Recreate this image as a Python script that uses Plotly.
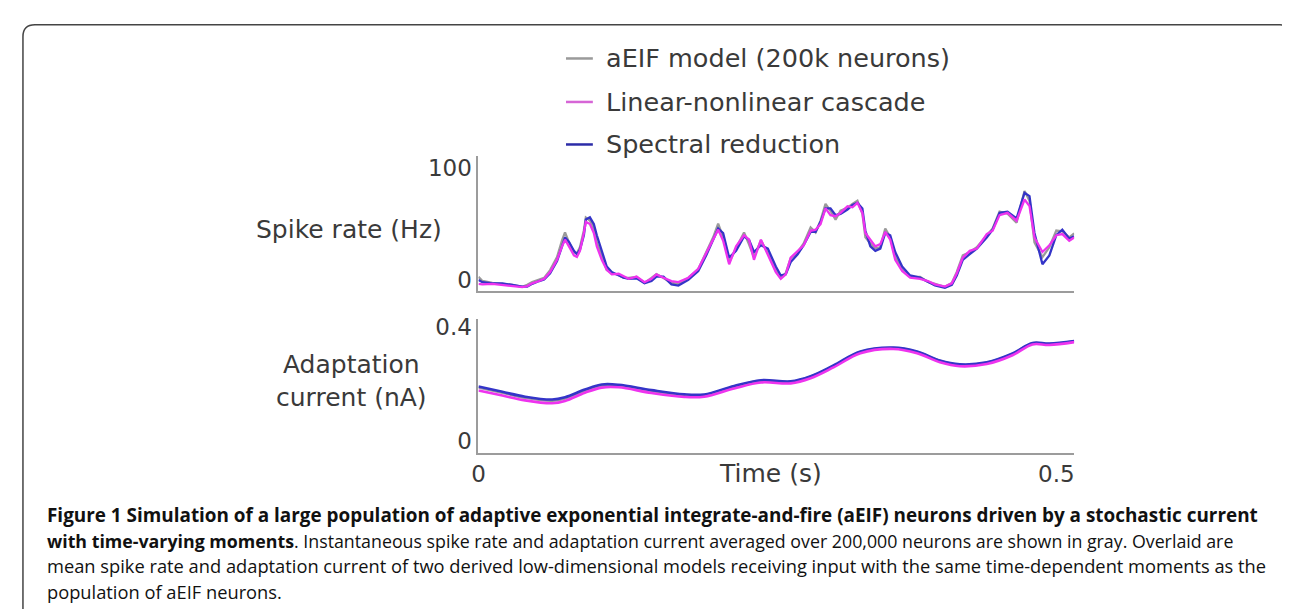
import plotly.graph_objects as go

W, H = 1290, 609

# ---------------- data ----------------
t_rate = [0.0, 0.0034, 0.0120, 0.0207, 0.0293, 0.0379, 0.0422, 0.0465, 0.0525, 0.0568,
          0.0620, 0.0680, 0.0723, 0.0749, 0.0783, 0.0826, 0.0852, 0.0878, 0.0912, 0.0929,
          0.0964, 0.0998, 0.1024, 0.1067, 0.1110, 0.1153, 0.1213, 0.1256, 0.1300, 0.1368,
          0.1437, 0.1497, 0.1540, 0.1601, 0.1670, 0.1730, 0.1816, 0.1902, 0.1971, 0.2031,
          0.2074, 0.2117, 0.2169, 0.2229, 0.2298, 0.2341, 0.2384, 0.2444, 0.2504, 0.2573,
          0.2616, 0.2659, 0.2702, 0.2762, 0.2814, 0.2874, 0.2917, 0.2960, 0.3003, 0.3046,
          0.3090, 0.3133, 0.3193, 0.3236, 0.3279, 0.3322, 0.3348, 0.3391, 0.3434, 0.3477,
          0.3520, 0.3563, 0.3606, 0.3666, 0.3735, 0.3821, 0.3890, 0.3950, 0.4036, 0.4096,
          0.4139, 0.4191, 0.4251, 0.4312, 0.4398, 0.4449, 0.4509, 0.4578, 0.4656, 0.4725,
          0.4768, 0.4811, 0.4880, 0.4940, 0.5000, 0.5052, 0.5112, 0.5155]

rate_aeif = [2.7, -0.9, -2.7, -3.5, -4.4, -6.2, -4.4, -1.8, 0.0, 1.8,
             8.8, 20.4, 35.4, 42.5, 33.6, 24.8, 23.9, 29.2, 44.2, 55.8,
             53.1, 46.0, 33.6, 20.4, 8.8, 6.2, 4.4, 1.8, 1.8, 2.7,
             -2.7, 1.8, 5.3, 1.8, -2.7, -3.5, 1.8, 9.7, 25.7, 38.1,
             50.4, 38.1, 15.9, 28.3, 42.5, 31.9, 20.4, 35.4, 23.9, 8.0,
             1.8, 6.2, 19.5, 24.8, 32.7, 46.9, 42.5, 53.1, 68.1, 61.9,
             54.0, 61.9, 64.6, 68.1, 70.8, 59.3, 38.1, 32.7, 28.3, 29.2,
             46.0, 38.1, 20.4, 8.8, 2.7, 2.7, -1.8, -3.5, -6.2, -2.7,
             7.1, 22.1, 24.8, 29.2, 39.8, 46.0, 61.1, 59.3, 51.3, 79.6,
             70.8, 33.6, 20.4, 29.2, 44.2, 43.4, 38.1, 41.6]

rate_ln = [-3.5, -4.0, -3.5, -4.5, -5.0, -6.5, -5.5, -3.0, -1.0, 1.0,
           7.0, 18.0, 30.0, 36.0, 30.0, 22.0, 20.5, 26.0, 42.0, 52.0,
           50.0, 42.0, 30.0, 18.0, 9.0, 5.0, 5.5, 3.0, 1.0, 3.0,
           -2.0, 1.0, 5.0, 2.0, -1.0, -2.0, 2.0, 10.0, 24.0, 36.0,
           45.0, 35.0, 14.0, 30.0, 40.0, 36.0, 18.0, 36.0, 22.0, 7.0,
           1.0, 5.0, 20.0, 26.0, 31.0, 44.0, 45.0, 50.0, 64.0, 58.0,
           57.0, 60.0, 66.0, 65.0, 69.0, 60.0, 42.0, 36.0, 30.0, 32.0,
           43.0, 36.0, 18.0, 8.0, 2.0, 1.0, -1.0, -4.0, -6.0, -3.0,
           6.0, 20.0, 26.0, 28.0, 41.0, 44.0, 58.0, 60.0, 53.0, 72.0,
           66.0, 38.0, 25.0, 31.0, 40.0, 41.0, 35.0, 38.0]

rate_spec = [0.0, -2.0, -3.0, -3.0, -4.5, -6.0, -6.0, -3.5, -1.0, 0.5,
             6.0, 17.0, 30.0, 38.0, 34.0, 26.0, 23.0, 27.0, 40.0, 54.0,
             56.0, 50.0, 40.0, 25.0, 12.0, 7.0, 4.0, 2.0, 1.0, 1.5,
             -3.0, -1.0, 3.0, 3.0, -4.0, -5.0, 0.0, 8.0, 22.0, 36.0,
             46.0, 42.0, 20.0, 26.0, 39.0, 36.0, 25.0, 31.0, 28.0, 12.0,
             4.0, 5.0, 16.0, 23.0, 31.0, 43.0, 43.0, 52.0, 64.0, 64.0,
             58.0, 59.0, 63.0, 67.0, 69.0, 64.0, 44.0, 30.0, 26.0, 28.0,
             42.0, 40.0, 25.0, 12.0, 4.0, 2.0, -2.0, -5.0, -7.0, -4.5,
             4.0, 18.0, 23.0, 28.0, 38.0, 45.0, 60.0, 61.0, 55.0, 78.0,
             75.0, 42.0, 14.0, 22.0, 40.0, 45.0, 37.0, 39.0]

t_adapt = [0.0, 0.0207, 0.0404, 0.0637, 0.0749, 0.0921, 0.1067, 0.1213, 0.1497, 0.1781,
           0.1954, 0.2212, 0.2444, 0.2702, 0.2874, 0.3072, 0.3305, 0.3589, 0.3795, 0.3993,
           0.4165, 0.4398, 0.4621, 0.4793, 0.4940, 0.5155]

adapt_aeif = [0.188, 0.170, 0.152, 0.142, 0.150, 0.177, 0.195, 0.195, 0.176, 0.162,
              0.162, 0.191, 0.212, 0.208, 0.226, 0.264, 0.313, 0.327, 0.313, 0.282,
              0.268, 0.275, 0.306, 0.344, 0.341, 0.351]
adapt_ln = [0.178, 0.160, 0.143, 0.133, 0.141, 0.170, 0.188, 0.189, 0.169, 0.155,
            0.156, 0.185, 0.206, 0.203, 0.221, 0.259, 0.309, 0.324, 0.309, 0.277,
            0.263, 0.271, 0.302, 0.340, 0.338, 0.348]
adapt_spec = [0.192, 0.173, 0.156, 0.146, 0.154, 0.181, 0.199, 0.198, 0.179, 0.164,
              0.164, 0.194, 0.214, 0.210, 0.228, 0.266, 0.315, 0.329, 0.315, 0.283,
              0.270, 0.277, 0.308, 0.345, 0.343, 0.352]

series_names = ["aEIF model (200k neurons)", "Linear-nonlinear cascade", "Spectral reduction"]
series_colors = ["#9a9a9a", "#ee33ee", "#3434c8"]
legend_colors = ["#9a9a9a", "#d665d6", "#2c2ca8"]

rate_ticks = [0, 100]
adapt_ticks = [0, 0.4]
adapt_ticktext = ["0", "0.4"]
time_ticks = [0, 0.5]
time_ticktext = ["0", "0.5"]

caption_lines = [
    "<b>Figure 1 Simulation of a large population of adaptive exponential integrate-and-fire (aEIF) neurons driven by a stochastic current</b>",
    "<b>with time-varying moments</b>. Instantaneous spike rate and adaptation current averaged over 200,000 neurons are shown in gray. Overlaid are",
    "mean spike rate and adaptation current of two derived low-dimensional models receiving input with the same time-dependent moments as the",
    "population of aEIF neurons.",
]

# ---------------- helpers ----------------
def px(x):
    return x / W


def py(y):
    return 1 - y / H


LABEL_FONT = "DejaVu Sans"
TXT = "#3a3a3a"

fig = go.Figure()

rate_by_idx = [rate_aeif, rate_ln, rate_spec]
adapt_by_idx = [adapt_aeif, adapt_ln, adapt_spec]
draw_order = [0, 2, 1]  # gray, blue, magenta on top
for idx in draw_order:
    fig.add_trace(go.Scatter(x=t_rate, y=rate_by_idx[idx], mode="lines",
                             line=dict(color=series_colors[idx], width=2.3),
                             name=series_names[idx], showlegend=False,
                             xaxis="x", yaxis="y"))
for idx in draw_order:
    fig.add_trace(go.Scatter(x=t_adapt, y=adapt_by_idx[idx], mode="lines",
                             line=dict(color=series_colors[idx], width=2.6, shape="spline", smoothing=1.0),
                             name=series_names[idx], showlegend=False,
                             xaxis="x2", yaxis="y2"))

axis_common = dict(showgrid=False, zeroline=False, showline=True, linecolor="#9c9c9c",
                   linewidth=2, ticks="", tickfont=dict(family=LABEL_FONT, size=23, color=TXT))

x_dom = [px(466), px(1065)]
fig.update_layout(
    width=W, height=H,
    margin=dict(l=0, r=0, t=0, b=0),
    paper_bgcolor="white", plot_bgcolor="white",
    showlegend=False,
    xaxis=dict(domain=x_dom, range=[0, 0.5155], anchor="y", showticklabels=False, **axis_common),
    yaxis=dict(domain=[py(281), py(145)], range=[-9.7, 110.6], anchor="x",
               tickvals=rate_ticks, **axis_common),
    xaxis2=dict(domain=x_dom, range=[0, 0.5155], anchor="y2",
                tickvals=time_ticks, ticktext=time_ticktext, **axis_common),
    yaxis2=dict(domain=[py(445), py(310)], range=[-0.0417, 0.4278], anchor="x2",
                tickvals=adapt_ticks, ticktext=adapt_ticktext, **axis_common),
)

annotations = []
# axis titles
annotations.append(dict(text="Spike rate (Hz)", x=px(336), y=py(219), xref="paper", yref="paper",
                        showarrow=False, xanchor="center", yanchor="middle",
                        font=dict(family=LABEL_FONT, size=25, color=TXT)))
annotations.append(dict(text="Adaptation<br>current (nA)", x=px(338), y=py(372), xref="paper", yref="paper",
                        showarrow=False, xanchor="center", yanchor="middle", align="center",
                        font=dict(family=LABEL_FONT, size=25, color=TXT)))
annotations.append(dict(text="Time (s)", x=px(760), y=py(466), xref="paper", yref="paper",
                        showarrow=False, xanchor="center", yanchor="middle",
                        font=dict(family=LABEL_FONT, size=25, color=TXT)))

# legend (lines + text)
shapes = []
legend_rows = [46, 90, 133]
for name, col, yy in zip(series_names, legend_colors, legend_rows):
    shapes.append(dict(type="line", xref="paper", yref="paper",
                       x0=px(554), x1=px(581), y0=py(yy), y1=py(yy),
                       line=dict(color=col, width=2.5)))
    annotations.append(dict(text=name, x=px(592), y=py(yy), xref="paper", yref="paper",
                            showarrow=False, xanchor="left", yanchor="middle",
                            font=dict(family=LABEL_FONT, size=25.5, color=TXT)))

# caption
cap_rows = [508, 534, 559, 585]
cap_sizes = [18.9, 17.8, 18.3, 18.3]
for line, yy, fs in zip(caption_lines, cap_rows, cap_sizes):
    annotations.append(dict(text=line, x=px(30), y=py(yy), xref="paper", yref="paper",
                            showarrow=False, xanchor="left", yanchor="middle",
                            font=dict(family="Open Sans", size=fs, color="#111111")))

# rounded frame
x0, x1, yt, r = px(8), px(1284), py(12), 12
path = (f"M {x0},{py(640)} L {x0},{py(12 + r)} Q {x0},{yt} {px(8 + r)},{yt} "
        f"L {px(1284 - r)},{yt} Q {x1},{yt} {x1},{py(12 + r)} L {x1},{py(640)}")
shapes.append(dict(type="path", xref="paper", yref="paper", path=path,
                   line=dict(color="#444444", width=1.5)))

fig.update_layout(annotations=annotations, shapes=shapes)

fig.write_html("out.html")
